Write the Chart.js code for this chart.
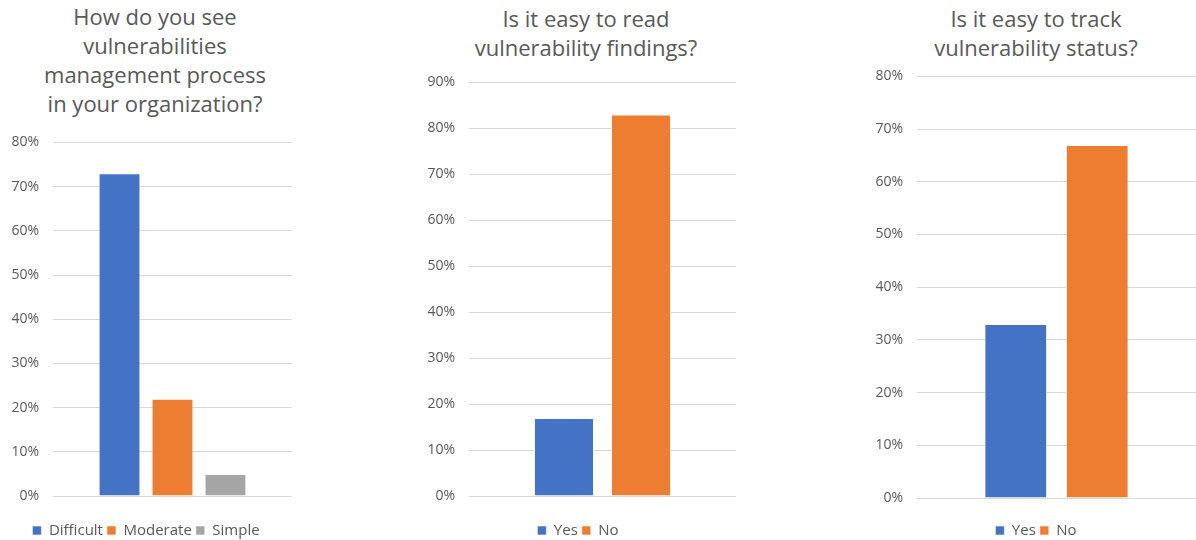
<!DOCTYPE html>
<html>
<head>
<meta charset="utf-8">
<script src="https://cdn.jsdelivr.net/npm/chart.js@4/dist/chart.umd.min.js"></script>
<style>
  html, body { margin: 0; padding: 0; background: #fff; overflow: hidden; }
  body { width: 1196px; height: 540px; position: relative; font-family: "Open Sans", sans-serif; }
  .box { position: absolute; }
  .title { position: absolute; text-align: center; color: #595959; font-size: 22px; line-height: 29px; }
</style>
</head>
<body>
<div class="title" style="left:0;top:2px;width:310px;">How do you see<br>vulnerabilities<br>management process<br>in your organization?</div>
<div class="title" style="left:430px;top:4px;width:312px;">Is it easy to read<br>vulnerability findings?</div>
<div class="title" style="left:876px;top:4px;width:320px;">Is it easy to track<br>vulnerability status?</div>

<div class="box" style="left:0;top:120px;width:310px;height:428px;"><canvas id="processChart"></canvas></div>
<div class="box" style="left:420px;top:60px;width:332px;height:488px;"><canvas id="readChart"></canvas></div>
<div class="box" style="left:876px;top:54px;width:320px;height:494px;"><canvas id="trackChart"></canvas></div>

<script>
// data
const processLabels = ['Difficult', 'Moderate', 'Simple'];
const processValues = [73, 22, 5];
const readLabels = ['Yes', 'No'];
const readValues = [17, 83];
const trackLabels = ['Yes', 'No'];
const trackValues = [33, 67];

const processTicks = [0, 10, 20, 30, 40, 50, 60, 70, 80];
const readTicks = [0, 10, 20, 30, 40, 50, 60, 70, 80, 90];
const trackTicks = [0, 10, 20, 30, 40, 50, 60, 70, 80];

const colors = ['#4472C4', '#ED7D31', '#A5A5A5'];
const textColor = '#595959';
const gridColor = '#D9D9D9';

Chart.defaults.font.family = '"Open Sans", sans-serif';
Chart.defaults.color = textColor;
Chart.defaults.animation = false;

// one dataset per answer so each shows up in the legend
function makeChart(id, labels, values, ticks, opts) {
  const ctx = document.getElementById(id).getContext('2d');
  return new Chart(ctx, {
    type: 'bar',
    data: {
      labels: [''],
      datasets: labels.map((lab, i) => ({
        label: lab,
        data: [values[i]],
        backgroundColor: colors[i],
        borderColor: 'rgba(255,255,255,0.6)',
        borderWidth: 1,
        categoryPercentage: opts.cat,
        barPercentage: opts.bar
      }))
    },
    options: {
      responsive: true,
      maintainAspectRatio: false,
      layout: { padding: { top: 20, right: opts.right, bottom: 0, left: 0 } },
      plugins: {
        legend: {
          position: 'bottom',
          labels: { boxWidth: 9, boxHeight: 9, padding: 4, color: textColor, font: { size: 15 } }
        },
        tooltip: { enabled: false }
      },
      scales: {
        x: {
          grid: { display: false },
          border: { display: false },
          ticks: { display: false },
          afterFit: (s) => { s.height = opts.xh; }
        },
        y: {
          min: ticks[0],
          max: ticks[ticks.length - 1],
          border: { display: false },
          grid: { color: gridColor, lineWidth: 1, drawTicks: false },
          ticks: { stepSize: 10, padding: 14, color: textColor, font: { size: 14 }, callback: (v) => v + '%' },
          afterFit: (s) => { s.width = opts.yw; }
        }
      }
    }
  });
}

const processChart = makeChart('processChart', processLabels, processValues, processTicks, { cat: 0.665, bar: 0.79, right: 18, yw: 53, xh: 23 });
const readChart = makeChart('readChart', readLabels, readValues, readTicks, { cat: 0.577, bar: 0.78, right: 16, yw: 49, xh: 23 });
const trackChart = makeChart('trackChart', trackLabels, trackValues, trackTicks, { cat: 0.584, bar: 0.77, right: 0, yw: 41, xh: 21 });
</script>
</body>
</html>
